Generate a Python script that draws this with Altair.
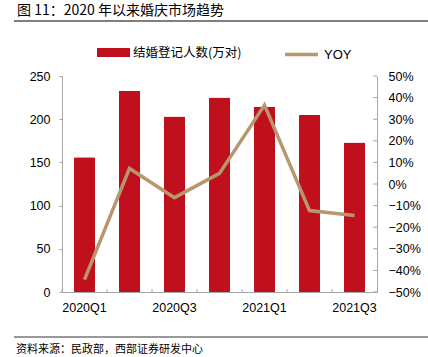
import altair as alt
import pandas as pd

quarters = ['2020Q1', '2020Q2', '2020Q3', '2020Q4', '2021Q1', '2021Q2', '2021Q3']
marriages = [156, 233, 203, 225, 214.5, 205, 173]          # 万对
yoy_pct = [-44.3, 7.2, -6.3, 4.9, 36.5, -12.3, -14.6]      # %
shown_labels = ['2020Q1', '2020Q3', '2021Q1', '2021Q3']
left_ticks = [0, 50, 100, 150, 200, 250]
right_ticks = [-0.5, -0.4, -0.3, -0.2, -0.1, 0, 0.1, 0.2, 0.3, 0.4, 0.5]

title_text = '图 11：2020 年以来婚庆市场趋势'
source_text = '资料来源：民政部，西部证券研发中心'
bar_name = '结婚登记人数(万对)'
line_name = 'YOY'

RED = '#C0101E'
TAN = '#B8966E'
AXIS = '#A6A6A6'
FONT = 'Liberation Sans'
CJK = 'Noto Sans CJK SC'

df = pd.DataFrame({'q': quarters, 'm': marriages, 'yoy': [v / 100 for v in yoy_pct],
                   'bn': [bar_name] * len(quarters), 'ln': [line_name] * len(quarters)})
one = pd.DataFrame({'t': [title_text], 's': [source_text]})
rt = pd.DataFrame({'v': right_ticks})

x_axis = alt.Axis(title=None, values=shown_labels, labelAngle=0, ticks=False,
                  domainColor=AXIS, labelFont=FONT, labelFontSize=12.5,
                  labelColor='#000', labelPadding=9)
x_scale = alt.Scale(paddingInner=0.53, paddingOuter=0.265)

bars = alt.Chart(df).mark_bar(cornerRadius=1).encode(
    x=alt.X('q:N', sort=quarters, scale=x_scale, axis=x_axis),
    y=alt.Y('m:Q', scale=alt.Scale(domain=[0, 250]),
            axis=alt.Axis(title=None, values=left_ticks, grid=False, domainColor=AXIS,
                          tickColor=AXIS, tickSize=3, labelPadding=9, labelFont=FONT,
                          labelFontSize=12.5, labelColor='#000')),
    color=alt.Color('bn:N', scale=alt.Scale(domain=[bar_name], range=[RED]),
                    legend=alt.Legend(title=None, orient='none', legendX=35, legendY=-40,
                                      symbolType='M-1,-0.27H1V0.27H-1Z', symbolSize=1089,
                                      symbolStrokeWidth=0, labelOffset=3, padding=0,
                                      labelFont=CJK, labelFontSize=12.5, labelColor='#000')),
)

xticks = alt.Chart(df).mark_rule(color=AXIS, xOffset=-11.9).encode(
    x=alt.X('q:N', sort=quarters, scale=x_scale, axis=x_axis, bandPosition=0),
    y=alt.value(213), y2=alt.value(216),
)

line = alt.Chart(df).mark_line(strokeWidth=3.5).encode(
    x=alt.X('q:N', sort=quarters, scale=x_scale, axis=x_axis),
    y=alt.Y('yoy:Q', scale=alt.Scale(domain=[-0.5, 0.5]),
            axis=alt.Axis(title=None, orient='right', values=right_ticks, format='.0%',
                          grid=False, ticks=False, domainColor=AXIS, labelPadding=11,
                          labelFont=FONT, labelFontSize=12.5, labelColor='#000')),
    stroke=alt.Stroke('ln:N', scale=alt.Scale(domain=[line_name], range=[TAN]),
                      legend=alt.Legend(title=None, orient='none', legendX=221, legendY=-40,
                                        symbolType='stroke', symbolSize=1089,
                                        symbolStrokeWidth=3.5, labelOffset=4, padding=0,
                                        labelFont=FONT, labelFontSize=13, labelColor='#000')),
)

rticks = alt.Chart(rt).mark_rule(color=AXIS).encode(
    y=alt.Y('v:Q', scale=alt.Scale(domain=[-0.5, 0.5]), axis=None),
    x=alt.value(311), x2=alt.value(315),
)

title = alt.Chart(one).mark_text(align='left', baseline='alphabetic', font=CJK,
                                 fontSize=14, color='#000').encode(
    text='t:N', x=alt.value(-45), y=alt.value(-61))
title_rule = alt.Chart(one).mark_rule(color='#555', strokeWidth=1.5).encode(
    x=alt.value(-48), x2=alt.value(366), y=alt.value(-55))
foot_rule = alt.Chart(one).mark_rule(color='#999', strokeWidth=2).encode(
    x=alt.value(-48), x2=alt.value(366), y=alt.value(261))
source = alt.Chart(one).mark_text(align='left', baseline='alphabetic', font=CJK,
                                  fontSize=11, color='#000').encode(
    text='s:N', x=alt.value(-46), y=alt.value(277))

chart = alt.layer(bars, xticks, line, rticks, title, title_rule, foot_rule, source).resolve_scale(
    y='independent', color='independent', stroke='independent'
).properties(
    width=315, height=216, autosize='none',
    padding={'left': 62, 'top': 76, 'right': 51, 'bottom': 65},
    background='white',
).configure_view(stroke=None)

chart.save('out.html', embed_options={'renderer': 'svg', 'actions': False})
